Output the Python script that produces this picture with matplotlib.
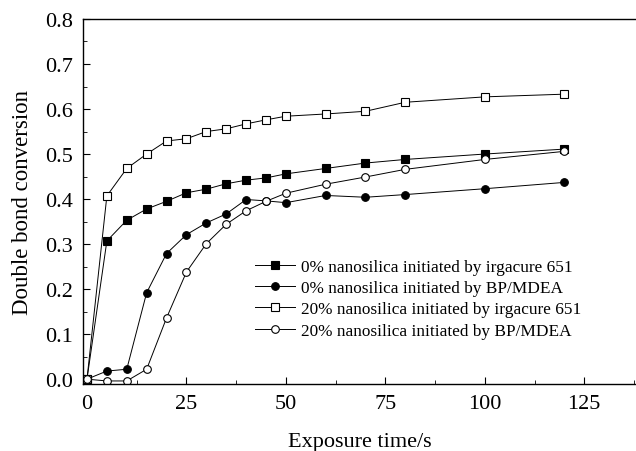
import numpy as np
import matplotlib.pyplot as plt
from matplotlib.ticker import MultipleLocator

# ----- data -----
t = [0, 5, 10, 15, 20, 25, 30, 35, 40, 45, 50, 60, 70, 80, 100, 120]

s0_irg = [0.0, 0.307, 0.353, 0.378, 0.395, 0.414, 0.422, 0.434, 0.442, 0.447, 0.456,
          0.468, 0.480, 0.488, 0.500, 0.511]
s0_bp = [0.0, 0.018, 0.022, 0.192, 0.279, 0.321, 0.347, 0.367, 0.399, 0.396, 0.392,
         0.408, 0.404, 0.410, 0.423, 0.437]
s20_irg = [0.0, 0.407, 0.468, 0.500, 0.529, 0.534, 0.550, 0.556, 0.567, 0.576, 0.584,
           0.589, 0.595, 0.615, 0.627, 0.633]
s20_bp = [0.0, -0.004, -0.004, 0.022, 0.136, 0.238, 0.301, 0.344, 0.374, 0.395, 0.413,
          0.433, 0.449, 0.466, 0.488, 0.506]

labels = ["0% nanosilica initiated by irgacure 651",
          "0% nanosilica initiated by BP/MDEA",
          "20% nanosilica initiated by irgacure 651",
          "20% nanosilica initiated by BP/MDEA"]

plt.rcParams["font.family"] = ["Liberation Serif", "DejaVu Serif"]

fig = plt.figure(figsize=(6.36, 4.52), dpi=100)
ax = fig.add_axes([0.1305, 0.148, 0.8695, 0.8078])

stil = dict(color="black", lw=0.7, markersize=5.5, markeredgewidth=0.8)
ax.plot(t, s0_irg, marker="s", markerfacecolor="black", label=labels[0], **stil)
ax.plot(t, s0_bp, marker="o", markerfacecolor="black", label=labels[1], **stil)
ax.plot(t, s20_irg, marker="s", markerfacecolor="white", label=labels[2], **stil)
ax.plot(t, s20_bp, marker="o", markerfacecolor="white", label=labels[3], **stil)

ax.set_xlim(-1, 138)
ax.set_ylim(-0.011, 0.8)
ax.xaxis.set_major_locator(MultipleLocator(25))
ax.xaxis.set_minor_locator(MultipleLocator(12.5))
ax.yaxis.set_major_locator(MultipleLocator(0.1))
ax.yaxis.set_minor_locator(MultipleLocator(0.05))
ax.yaxis.set_major_formatter(plt.FormatStrFormatter("%.1f"))
ax.tick_params(which="both", direction="in", labelsize=16)
ax.tick_params(which="major", length=5, width=0.8)
ax.tick_params(which="minor", length=3, width=0.6)
ax.tick_params(axis="x", pad=7)
ax.tick_params(axis="y", pad=7)
ax.spines["right"].set_visible(False)
for side in ["left", "bottom", "top"]:
    ax.spines[side].set_linewidth(1.0)

ax.set_xlabel("Exposure time/s", fontsize=16, labelpad=14)
ax.set_ylabel("Double bond conversion", fontsize=16.5, labelpad=9)

ax.legend(loc="upper left", bbox_to_anchor=(0.311, 0.343), frameon=False, fontsize=12.4,
          handlelength=2.3, handletextpad=0.4, labelspacing=0.3, borderpad=0,
          borderaxespad=0)

fig.savefig("out.png", dpi=100)
